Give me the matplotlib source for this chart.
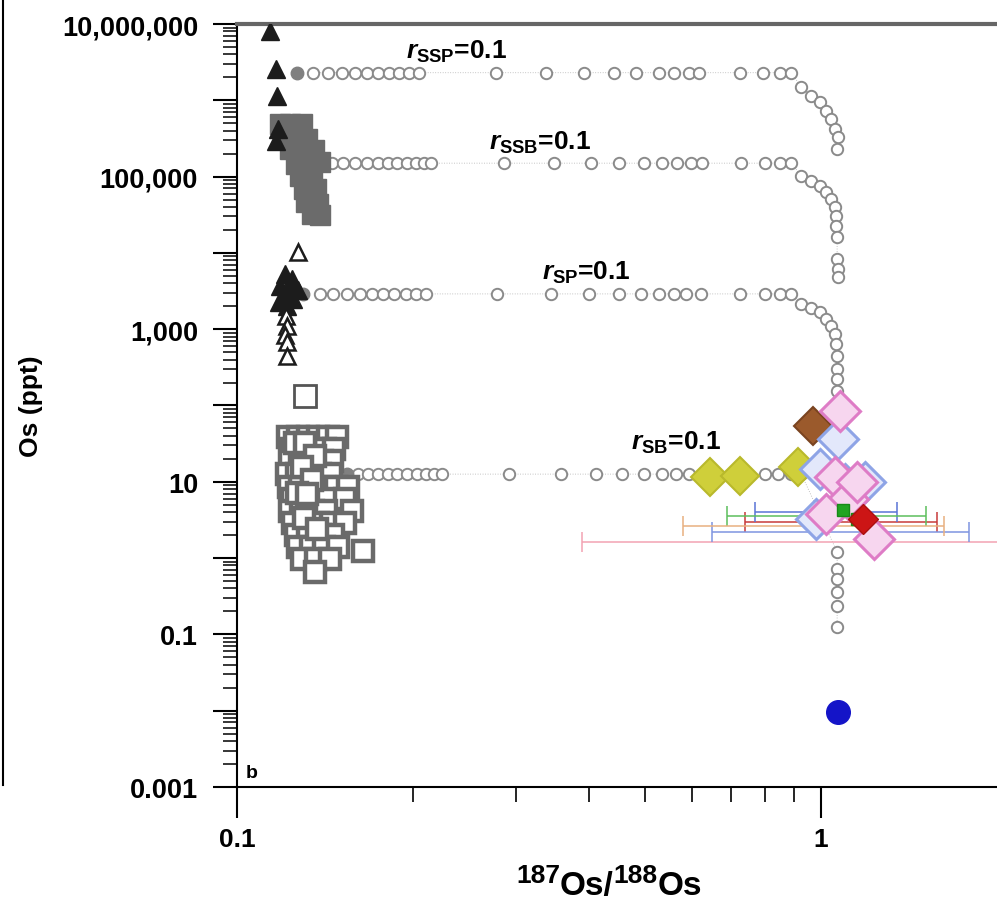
import math

import matplotlib
matplotlib.use("Agg")
import matplotlib.pyplot as plt
from matplotlib.lines import Line2D
from matplotlib.ticker import FixedLocator, FuncFormatter, LogLocator, NullFormatter

# ---- mixing curves (open grey circles) ----
ssp_x = [0.1348, 0.1430, 0.1511, 0.1590, 0.1667, 0.1740, 0.1824, 0.1897, 0.1973, 0.2052,
         0.278, 0.338, 0.393, 0.442, 0.482, 0.527, 0.559, 0.593, 0.617,
         0.727, 0.796, 0.851, 0.889, 0.925, 0.961, 0.996, 1.020, 1.040, 1.057, 1.069, 1.065]
ssp_y = [2.3e6] * 23 + [1.49e6, 1.14e6, 9.5e5, 7.2e5, 5.7e5, 4.2e5, 3.3e5, 2.3e5]

ssb_x = [0.1452, 0.1516, 0.1590, 0.1667, 0.1740, 0.1810, 0.1882, 0.1958, 0.2028, 0.2093, 0.2152,
         0.287, 0.349, 0.404, 0.450, 0.497, 0.533, 0.566, 0.598, 0.624,
         0.730, 0.803, 0.851, 0.889, 0.925, 0.961, 0.996, 1.020, 1.040, 1.057, 1.061, 1.061, 1.065,
         1.065, 1.069, 1.069]
ssb_y = [1.5e5] * 24 + [1.02e5, 8.75e4, 7.5e4, 6.3e4, 5.1e4, 4.0e4, 3.05e4, 2.25e4, 1.62e4,
                        8.3e3, 6.15e3, 4.8e3]

sp_x = [0.1386, 0.1458, 0.1540, 0.1621, 0.1700, 0.1775, 0.1860, 0.1950, 0.2028, 0.2110,
        0.279, 0.345, 0.400, 0.450, 0.491, 0.527, 0.559, 0.588, 0.622,
        0.727, 0.803, 0.851, 0.889, 0.925, 0.961, 0.996, 1.020, 1.040, 1.057, 1.061, 1.065,
        1.065, 1.065, 1.065, 1.069]
sp_y = [2.9e3] * 23 + [2.14e3, 1.9e3, 1.68e3, 1.36e3, 1.10e3, 865, 640, 446, 300, 222, 155, 100]

sb_x = [0.1609, 0.1673, 0.1740, 0.1810, 0.1882, 0.1958, 0.2036, 0.2110, 0.2177, 0.2246,
        0.292, 0.359, 0.412, 0.456, 0.497, 0.533, 0.564, 0.593, 0.803, 0.845, 0.889, 0.925,
        1.065, 1.065, 1.065, 1.065, 1.065, 1.065]
sb_y = [12.6] * 22 + [1.2, 0.72, 0.53, 0.36, 0.236, 0.125]

mantle_x = [0.1266, 0.1375, 0.1296, 0.1540]
mantle_y = [2.3e6, 1.5e5, 2.9e3, 12.6]

# ---- literature / sample groups ----
tri_fill_x = [0.1139, 0.1166, 0.1170, 0.1175, 0.1166,
              0.1207, 0.1241, 0.1184, 0.1231, 0.1271, 0.1200, 0.1246, 0.1217, 0.1180]
tri_fill_y = [8.1e6, 2.6e6, 1.14e6, 4.2e5, 2.9e5,
              5.3e3, 4.55e3, 3.7e3, 3.3e3, 3.3e3, 2.7e3, 2.5e3, 2.0e3, 2.3e3]

tri_open_x = [0.1271, 0.1212, 0.1217, 0.1207, 0.1217, 0.1217]
tri_open_y = [1.03e4, 1.5e3, 1.1e3, 840, 680, 446]

sq_fill_x = [0.1184, 0.1231, 0.1291, 0.1256, 0.1320, 0.1231, 0.1291, 0.1353, 0.1260, 0.1320,
             0.1386, 0.1281, 0.1342, 0.1301, 0.1364, 0.1311, 0.1375, 0.1342, 0.1386]
sq_fill_y = [4.9e5, 4.9e5, 4.9e5, 3.4e5, 3.1e5, 2.3e5, 2.2e5, 2.2e5, 1.46e5, 1.55e5,
             1.55e5, 1.02e5, 1.0e5, 6.9e4, 6.9e4, 4.6e4, 4.4e4, 3.2e4, 3.1e4]

sq_open_x = [0.1222, 0.1271, 0.1322, 0.1375, 0.1430, 0.1481,
             0.1241, 0.1296, 0.1353, 0.1413, 0.1464,
             0.1231, 0.1281, 0.1337, 0.1397, 0.1452,
             0.1217, 0.1266, 0.1322, 0.1386, 0.1447,
             0.1227, 0.1281, 0.1342, 0.1408, 0.1475, 0.1546,
             0.1241, 0.1301, 0.1364, 0.1430, 0.1528,
             0.1231, 0.1286, 0.1348, 0.1419, 0.1571,
             0.1246, 0.1306, 0.1375, 0.1447, 0.1528,
             0.1261, 0.1322, 0.1386, 0.1458,
             0.1271, 0.1337, 0.1408, 0.1487, 0.1641,
             0.1291, 0.1364, 0.1441,
             0.1359,
             0.1256, 0.1306, 0.1359, 0.1290, 0.1345, 0.1265, 0.1320, 0.1300, 0.1370]
sq_open_y = [38.6] * 6 + [26.9] * 5 + [18.7] * 5 + [12.6] * 5 + [8.55] * 6 + [5.95] * 5 \
    + [4.14] * 5 + [2.88] * 5 + [2.01] * 4 + [1.40, 1.40, 1.40, 1.40, 1.24] \
    + [0.973] * 3 + [0.66] \
    + [32.0, 32.0, 22.0, 15.5, 10.5, 7.2, 7.0, 3.4, 2.4]

big_sq_x = [0.1306]
big_sq_y = [133]

# ---- this study (diamonds) ----
yellow_x = [0.646, 0.727, 0.913]
yellow_y = [11.6, 11.9, 15.6]
brown_x = [0.969]
brown_y = [53.8]
pink_x = [1.077, 1.057, 1.11, 1.02, 1.23, 1.15]
pink_y = [84.8, 11.6, 5.95, 3.78, 1.8, 10.0]
blue_x = [1.069, 0.996, 1.10, 1.19, 0.978]
blue_y = [36.4, 14.7, 9.35, 10.0, 3.3]
green_x = [1.09, 1.15]
green_y = [4.3, 3.3]
red_x = [1.18]
red_y = [3.3]

# horizontal error bars (centre, half width)
eb_x = [1.20, 1.16, 1.22, 1.06, 1.10, 1.10]
eb_y = [1.63, 2.97, 2.2, 4.0, 3.6, 2.64]
eb_err = [0.81, 0.42, 0.57, 0.29, 0.41, 0.52]
eb_col = ["#f2a3b3", "#c83a3a", "#7f95e0", "#5a74d6", "#5cbf5c", "#e8b080"]

blob_x = [1.07]
blob_y = [0.0096]

labels = [
    (0.1950, 4.5e6, r"$\mathit{r}_{\mathrm{SSP}}$=0.1"),
    (0.2705, 2.84e5, r"$\mathit{r}_{\mathrm{SSB}}$=0.1"),
    (0.3325, 5.6e3, r"$\mathit{r}_{\mathrm{SP}}$=0.1"),
    (0.4719, 33.0, r"$\mathit{r}_{\mathrm{SB}}$=0.1"),
]


def y_label_fmt(v, _pos):
    e = int(round(math.log10(v)))
    if e % 2 == 0:
        return ""
    if v >= 1:
        return f"{int(round(v)):,}"
    return f"{v:g}"


def draw_curves(ax):
    for xs, ys in [(ssp_x, ssp_y), (ssb_x, ssb_y), (sp_x, sp_y), (sb_x, sb_y)]:
        ax.plot(xs, ys, ls=(0, (1, 2)), lw=0.6, color="#b0b0b0", zorder=2)
        ax.plot(xs, ys, "o", ms=8.2, mfc="white", mec="#8a8a8a", mew=1.4, zorder=3)
    ax.plot(mantle_x, mantle_y, "o", ms=9, mfc="#808080", mec="#808080", zorder=4)


def draw_samples(ax):
    ax.plot(sq_fill_x, sq_fill_y, "s", ms=14, mfc="#6b6b6b", mec="#6b6b6b", zorder=5)
    ax.plot(tri_fill_x, tri_fill_y, "^", ms=13, mfc="#1c1c1c", mec="#1c1c1c", zorder=6)
    ax.plot(tri_open_x, tri_open_y, "^", ms=11, mfc="white", mec="#1c1c1c", mew=1.8, zorder=7)
    ax.plot(big_sq_x, big_sq_y, "s", ms=16, mfc="white", mec="#555555", mew=2, zorder=5)
    ax.plot(sq_open_x, sq_open_y, "s", ms=14, mfc="white", mec="#6a6a6a", mew=3.2, zorder=5)

    for x, y, e, c in zip(eb_x, eb_y, eb_err, eb_col):
        ax.errorbar([x], [y], xerr=[e], fmt="none", ecolor=c, elinewidth=1.1,
                    capsize=7, capthick=1.1, zorder=6)

    ax.plot(yellow_x, yellow_y, "D", ms=19, mfc="#cfcf3a", mec="#b9b92c", mew=1.5, zorder=7)
    ax.plot(brown_x, brown_y, "D", ms=19, mfc="#9b5a2c", mec="#7a4420", mew=1.5, zorder=7)
    ax.plot(blue_x, blue_y, "D", ms=20, mfc="#e3e8fb", mec="#8ea4e6", mew=2.2, zorder=8)
    ax.plot(pink_x, pink_y, "D", ms=20, mfc="#f7d6ef", mec="#de7cc6", mew=2.2, zorder=8)
    ax.plot(green_x, green_y, "s", ms=9, mfc="#22a422", mec="#188a18", zorder=9)
    ax.plot(red_x, red_y, "D", ms=15, mfc="#cc1515", mec="#aa1010", zorder=9)
    ax.plot(blob_x, blob_y, "o", ms=17, mfc="#1414c8", mec="#1414c8", zorder=9)


def style_axes(ax):
    ax.set_xscale("log")
    ax.set_yscale("log")
    ax.set_xlim(0.1, 2.0)
    ax.set_ylim(0.001, 1e7)

    ax.yaxis.set_major_locator(LogLocator(base=10, subs=(1.0,), numticks=20))
    ax.yaxis.set_minor_locator(LogLocator(base=10, subs=range(2, 10), numticks=20))
    ax.yaxis.set_major_formatter(FuncFormatter(y_label_fmt))
    ax.yaxis.set_minor_formatter(NullFormatter())

    ax.xaxis.set_major_locator(FixedLocator([0.1, 1.0]))
    ax.xaxis.set_minor_locator(FixedLocator([0.2, 0.3, 0.4, 0.5, 0.6, 0.7, 0.8, 0.9]))
    ax.xaxis.set_major_formatter(FuncFormatter(lambda v, p: f"{v:g}"))
    ax.xaxis.set_minor_formatter(NullFormatter())

    ax.tick_params(axis="y", which="major", direction="out", length=17, width=1.5,
                   pad=11, labelsize=19.5)
    ax.tick_params(axis="y", which="minor", direction="out", length=10, width=1.1)
    ax.tick_params(axis="x", which="major", direction="out", length=22, width=1.5,
                   pad=7, labelsize=19)
    ax.tick_params(axis="x", which="minor", direction="out", length=11, width=1.2)
    for lab in ax.get_xticklabels() + ax.get_yticklabels():
        lab.set_fontweight("bold")

    ax.spines["right"].set_visible(False)
    ax.spines["top"].set_color("#666666")
    ax.spines["top"].set_linewidth(3)
    ax.spines["left"].set_linewidth(1.5)
    ax.spines["bottom"].set_linewidth(1.5)

    ax.set_ylabel("Os (ppt)", fontsize=19, fontweight="bold")
    ax.yaxis.set_label_coords(-0.255, 0.5)
    ax.text(0.012, 0.008, "b", transform=ax.transAxes, fontsize=14, fontweight="bold",
            va="bottom", ha="left")


def draw_xlabel(fig, x0_px=516, base_px=895):
    # 187Os/188Os with near full-size raised mass numbers
    W, H = fig.get_size_inches() * fig.dpi
    renderer = fig.canvas.get_renderer()
    pieces = [("187", 19, 12), ("Os/", 24, 0), ("188", 19, 12), ("Os", 24, 0)]
    x = x0_px
    for s, size, dy in pieces:
        t = fig.text(x / W, (H - base_px + dy) / H, s, fontsize=size, fontweight="bold",
                     ha="left", va="baseline")
        x = t.get_window_extent(renderer).x1


def main():
    plt.rcParams["font.family"] = ["Liberation Sans", "DejaVu Sans"]
    plt.rcParams["mathtext.fontset"] = "custom"
    plt.rcParams["mathtext.rm"] = "Liberation Sans:bold"
    plt.rcParams["mathtext.it"] = "Liberation Sans:italic:bold"
    plt.rcParams["mathtext.bf"] = "Liberation Sans:bold"

    fig = plt.figure(figsize=(9.97, 9.03), dpi=100)
    ax = fig.add_axes([0.2377, 0.1274, 0.7623, 0.8449])

    draw_curves(ax)
    draw_samples(ax)
    for x, y, s in labels:
        ax.text(x, y, s, fontsize=19, fontweight="bold", ha="left", va="center", zorder=10)

    style_axes(ax)
    draw_xlabel(fig)

    # edge of the neighbouring panel, cut off at the left
    fig.add_artist(Line2D([0.003, 0.003], [0.13, 1.0], color="black", lw=1.5))

    fig.savefig("out.png", dpi=100)
    plt.close(fig)


if __name__ == "__main__":
    main()
